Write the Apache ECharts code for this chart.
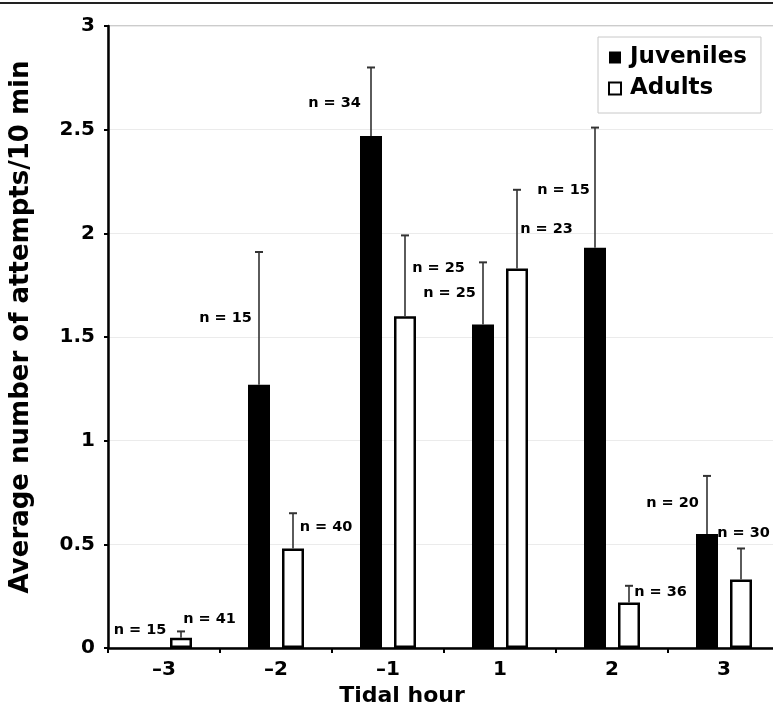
<!DOCTYPE html>
<html>
<head>
<meta charset="utf-8">
<script src="https://cdn.jsdelivr.net/npm/echarts@6/dist/echarts.min.js"></script>
<style>html,body{margin:0;padding:0;background:#fff}#c{width:773px;height:704px}</style>
</head>
<body>
<div id="c"></div>
<script>
const categories = ['–3', '–2', '–1', '1', '2', '3'];
const juvenileMean = [0, 1.27, 2.47, 1.56, 1.93, 0.55];
const juvenileErr = [0, 0.64, 0.33, 0.30, 0.58, 0.28];
const adultMean = [0.05, 0.48, 1.60, 1.83, 0.22, 0.33];
const adultErr = [0.03, 0.17, 0.39, 0.38, 0.08, 0.15];
const juvenileN = [15, 15, 34, 25, 15, 20];
const adultN = [41, 40, 25, 23, 36, 30];

// annotation placement: [pixel shift from bar centre, label height in data units]
const juvenileLabelAt = [[-7, 0.087], [-33.5, 1.592], [-36.5, 2.629], [-33.5, 1.712], [-31.5, 2.209], [-34.5, 0.699]];
const adultLabelAt = [[28.5, 0.140], [33, 0.584], [33.5, 1.833], [29.5, 2.021], [31.5, 0.270], [2.5, 0.555]];

const FONT = 'DejaVu Sans';
const BAR_W = 22, BAR_GAP_PX = 12;
const HALF = (BAR_W + BAR_GAP_PX) / 2;

function errSeries(mean, err, side) {
  return {
    type: 'custom',
    z: 5,
    silent: true,
    data: mean.map((m, i) => [i, m, m + err[i]]),
    renderItem: function (params, api) {
      const lo = api.coord([api.value(0), api.value(1)]);
      const hi = api.coord([api.value(0), api.value(2)]);
      if (Math.abs(lo[1] - hi[1]) < 0.5) return null;
      const x = lo[0] + side * HALF;
      return {
        type: 'group',
        children: [
          { type: 'line', shape: { x1: x, y1: lo[1], x2: x, y2: hi[1] }, style: { stroke: '#333', lineWidth: 1.6 } },
          { type: 'line', shape: { x1: x - 4, y1: hi[1], x2: x + 4, y2: hi[1] }, style: { stroke: '#333', lineWidth: 2 } }
        ]
      };
    }
  };
}

function labelSeries(nArr, at, side) {
  return {
    type: 'custom',
    z: 6,
    silent: true,
    data: nArr.map((n, i) => [i, at[i][1], at[i][0], n]),
    renderItem: function (params, api) {
      const p = api.coord([api.value(0), api.value(1)]);
      return {
        type: 'text',
        x: p[0] + side * HALF + api.value(2),
        y: p[1],
        style: {
          text: 'n = ' + api.value(3),
          font: 'bold 14.5px "' + FONT + '"',
          fill: '#000',
          align: 'center',
          verticalAlign: 'middle'
        }
      };
    }
  };
}

const chart = echarts.init(document.getElementById('c'), null, { renderer: 'canvas' });
chart.setOption({
  animation: false,
  backgroundColor: '#fff',
  textStyle: { fontFamily: FONT },
  grid: { left: 108, top: 26, right: -7, bottom: 56, outerBoundsMode: 'none', containLabel: false, show: true, borderColor: '#999', borderWidth: 1, backgroundColor: 'transparent' },
  graphic: [
    { type: 'line', shape: { x1: 0, y1: 3, x2: 773, y2: 3 }, style: { stroke: '#222', lineWidth: 2 } }
  ],
  legend: {
    orient: 'vertical',
    left: 598,
    top: 37,
    backgroundColor: '#fff',
    borderColor: '#c8c8c8',
    borderWidth: 1,
    padding: [9, 14, 13, 10],
    itemWidth: 12,
    itemHeight: 12,
    itemGap: 8,
    icon: 'rect',
    textStyle: { fontFamily: FONT, fontWeight: 'bold', fontSize: 23, color: '#000', padding: [0, 0, 0, 4] },
    data: ['Juveniles', 'Adults']
  },
  xAxis: {
    type: 'category',
    data: categories,
    name: 'Tidal hour',
    nameLocation: 'middle',
    nameGap: 35,
    nameTextStyle: { fontFamily: FONT, fontWeight: 'bold', fontSize: 22, color: '#000', padding: [0, 84, 0, 0] },
    axisLine: { lineStyle: { color: '#000', width: 2.5 } },
    axisTick: { show: true, length: 5, lineStyle: { color: '#000', width: 2 } },
    axisLabel: { margin: 12, fontFamily: FONT, fontWeight: 'bold', fontSize: 20, color: '#000' },
    splitLine: { show: false }
  },
  yAxis: {
    type: 'value',
    min: 0,
    max: 3,
    interval: 0.5,
    name: 'Average number of attempts/10 min',
    nameLocation: 'middle',
    nameRotate: 90,
    nameGap: 74,
    nameTextStyle: { fontFamily: FONT, fontWeight: 'bold', fontSize: 26, color: '#000', padding: [0, 0, 0, 20] },
    axisLine: { show: true, lineStyle: { color: '#000', width: 2.5 } },
    axisTick: { show: true, length: 4, lineStyle: { color: '#000', width: 2 } },
    axisLabel: { margin: 13, fontFamily: FONT, fontWeight: 'bold', fontSize: 20, color: '#000' },
    splitLine: { show: true, lineStyle: { color: '#ebebeb', width: 1 } }
  },
  series: [
    {
      name: 'Juveniles',
      type: 'bar',
      data: juvenileMean,
      barWidth: BAR_W,
      barGap: (BAR_GAP_PX / BAR_W * 100) + '%',
      itemStyle: { color: '#000' }
    },
    {
      name: 'Adults',
      type: 'bar',
      data: adultMean,
      barWidth: BAR_W,
      barGap: (BAR_GAP_PX / BAR_W * 100) + '%',
      itemStyle: { color: '#fff', borderColor: '#000', borderWidth: 2.5 }
    },
    errSeries(juvenileMean, juvenileErr, -1),
    errSeries(adultMean, adultErr, 1),
    labelSeries(juvenileN, juvenileLabelAt, -1),
    labelSeries(adultN, adultLabelAt, 1)
  ]
});
</script>
</body>
</html>
